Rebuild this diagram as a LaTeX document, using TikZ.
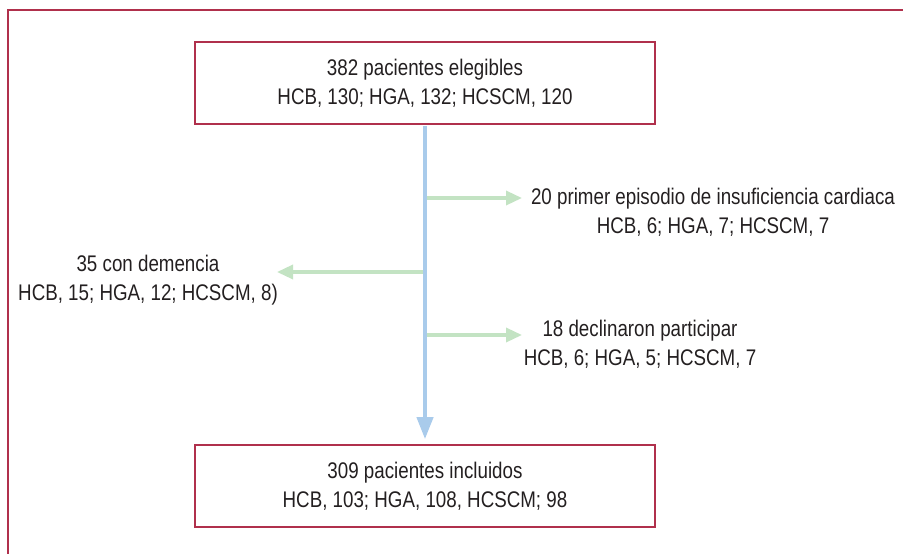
\documentclass[tikz,border=0pt]{standalone}
\usepackage{fontspec}
\setmainfont{Liberation Sans}[FakeStretch=0.83]
\usetikzlibrary{arrows.meta}
\definecolor{framecol}{HTML}{B0304C}
\definecolor{bluearr}{HTML}{A9CBEB}
\definecolor{greenarr}{HTML}{C3E3C3}
\definecolor{txt}{HTML}{231F20}
\tikzset{
  txtfont/.style={font=\fontsize{22.6}{29}\selectfont, text=txt},
  flowbox/.style={txtfont, draw=framecol, line width=1.6pt, minimum width=460pt, minimum height=82pt, inner sep=0pt, align=center},
  lbl/.style={txtfont, align=center, inner sep=0pt},
  mainarrow/.style={draw=bluearr, line width=4pt, -{Triangle[width=16pt,length=22pt]}},
  sidearrow/.style={draw=greenarr, line width=3.4pt, -{Triangle[width=14pt,length=16pt]}}
}
\begin{document}
\begin{tikzpicture}[x=1pt,y=-1pt]
\useasboundingbox (0,0) rectangle (903,554);
\draw[framecol, line width=1.5pt] (8,554) -- (8,10) -- (903,10);

\node[flowbox] (top) at (425,83) {382 pacientes elegibles\\HCB, 130; HGA, 132; HCSCM, 120};
\node[flowbox] (bot) at (425,486) {309 pacientes incluidos\\HCB, 103; HGA, 108, HCSCM; 98};

\node[lbl] (t1) at (713,212) {20 primer episodio de insuficiencia cardiaca\\HCB, 6; HGA, 7; HCSCM, 7};
\node[lbl] (t2) at (148,280) {35 con demencia\\HCB, 15; HGA, 12; HCSCM, 8)};
\node[lbl] (t3) at (640,344) {18 declinaron participar\\HCB, 6; HGA, 5; HCSCM, 7};

\draw[mainarrow, shorten <=1pt, shorten >=5pt] (top) -- (bot);

\coordinate (j1) at (425,198);
\coordinate (e1) at (522,198);
\coordinate (j2) at (425,272);
\coordinate (e2) at (277,272);
\coordinate (j3) at (425,335);
\coordinate (e3) at (522,335);
\draw[sidearrow, shorten <=2pt] (j1) -- (e1);
\draw[sidearrow, shorten <=2pt] (j2) -- (e2);
\draw[sidearrow, shorten <=2pt] (j3) -- (e3);
\end{tikzpicture}
\end{document}
